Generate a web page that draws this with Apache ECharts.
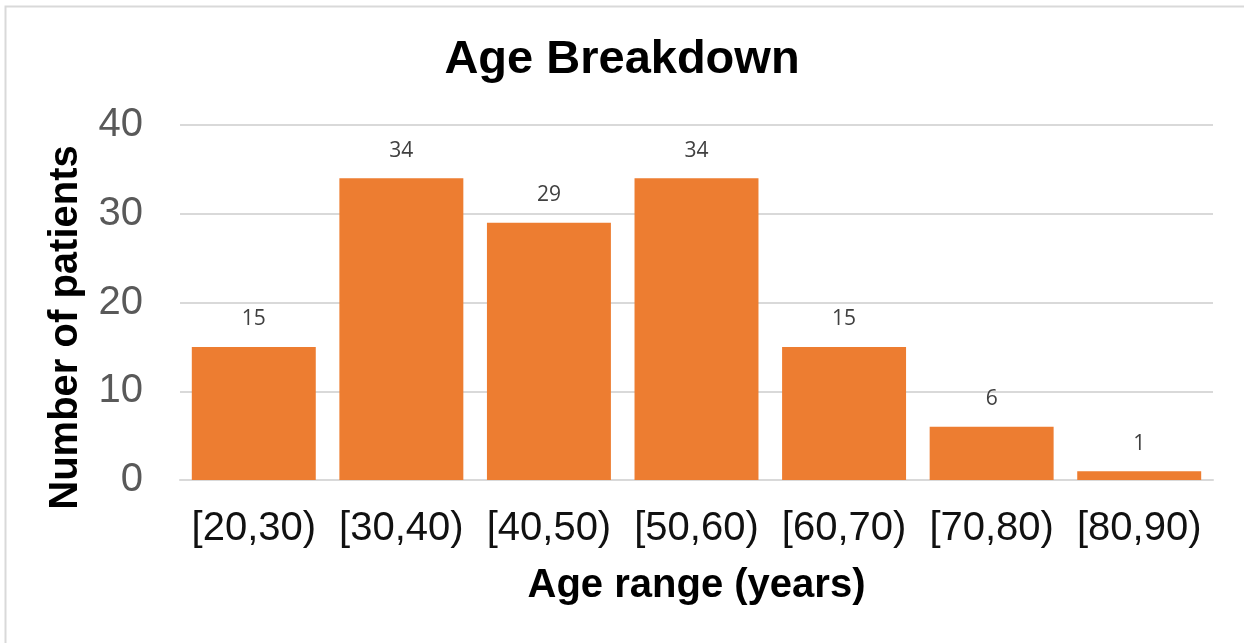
<!DOCTYPE html>
<html>
<head>
<meta charset="utf-8">
<script src="https://cdn.jsdelivr.net/npm/echarts@6/dist/echarts.min.js"></script>
<style>
html,body{margin:0;padding:0;background:#fff;}
#chart{width:1244px;height:643px;}
</style>
</head>
<body>
<div id="chart"></div>
<script>
const categories = ['[20,30)', '[30,40)', '[40,50)', '[50,60)', '[60,70)', '[70,80)', '[80,90)'];
const patientCounts = [15, 34, 29, 34, 15, 6, 1];
const yTicks = [0, 10, 20, 30, 40];

const chart = echarts.init(document.getElementById('chart'), null, {renderer: 'canvas'});
const font = 'Liberation Sans, Arial, sans-serif';
chart.setOption({
  animation: false,
  backgroundColor: '#ffffff',
  graphic: [{
    type: 'rect',
    shape: {x: 5.5, y: 6.5, width: 1250, height: 660},
    style: {fill: 'none', stroke: '#d9d9d9', lineWidth: 2},
    silent: true
  }],
  title: {
    text: 'Age Breakdown',
    left: 'center',
    top: 32,
    textStyle: {fontFamily: font, fontSize: 47, fontWeight: 'bold', color: '#000'}
  },
  grid: {left: 180, right: 31, top: 125, bottom: 163, containLabel: false},
  xAxis: {
    type: 'category',
    data: categories,
    name: 'Age range (years)',
    nameLocation: 'middle',
    nameGap: 86,
    nameTextStyle: {fontFamily: font, fontSize: 40, fontWeight: 'bold', color: '#000'},
    axisLine: {show: true, lineStyle: {color: '#d9d9d9', width: 2}},
    axisTick: {show: false},
    axisLabel: {fontFamily: font, fontSize: 40, color: '#111', margin: 29, interval: 0}
  },
  yAxis: {
    type: 'value',
    min: yTicks[0],
    max: yTicks[yTicks.length - 1],
    interval: 10,
    name: 'Number of patients',
    nameLocation: 'middle',
    nameGap: 94,
    nameRotate: 90,
    nameTextStyle: {fontFamily: font, fontSize: 40, fontWeight: 'bold', color: '#000', padding: [0, 50, 0, 0]},
    axisLine: {show: false},
    axisTick: {show: false},
    axisLabel: {fontFamily: font, fontSize: 40, color: '#595959', margin: 37},
    splitLine: {show: true, lineStyle: {color: '#d9d9d9', width: 2}}
  },
  series: [{
    type: 'bar',
    data: patientCounts,
    barCategoryGap: '16%',
    itemStyle: {color: '#ED7D31'},
    label: {
      show: true,
      position: 'top',
      distance: 17,
      fontFamily: 'Open Sans, DejaVu Sans, sans-serif',
      fontSize: 21,
      color: '#404040'
    }
  }]
});
</script>
</body>
</html>
